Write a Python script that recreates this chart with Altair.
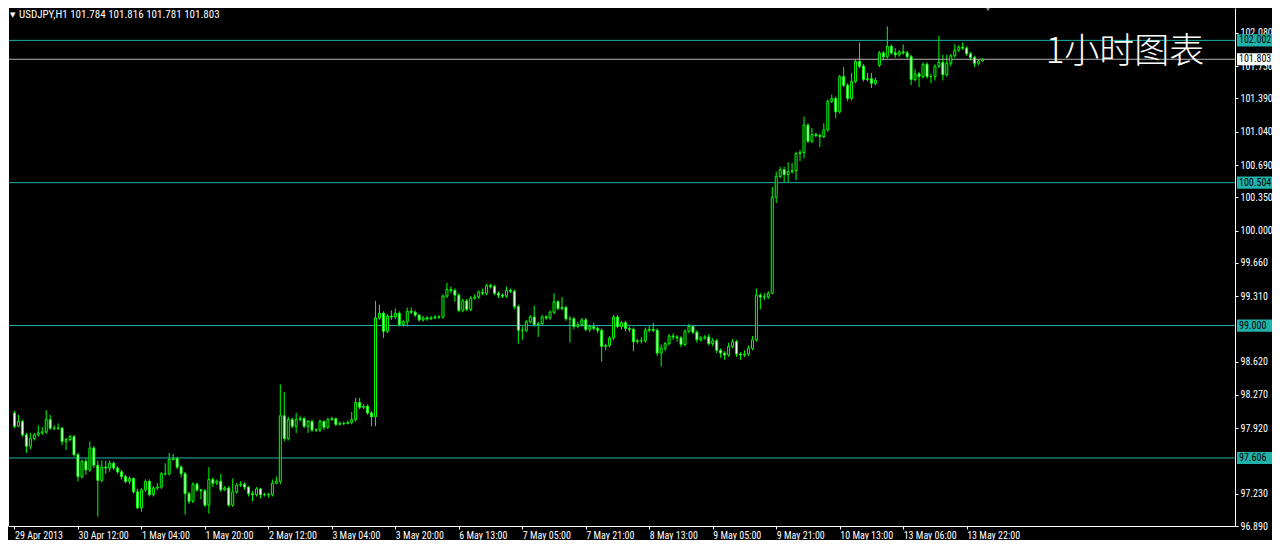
import altair as alt
import pandas as pd

# ---------------- data ----------------
closes = [
97.94, 97.99, 97.85, 97.73, 97.81, 97.85, 97.87, 97.88, 98.01, 97.92,
97.92, 97.92, 97.78, 97.80, 97.83, 97.64, 97.41, 97.57, 97.48, 97.71,
97.53, 97.37, 97.51, 97.50, 97.55, 97.50, 97.46, 97.41, 97.36, 97.39,
97.25, 97.08, 97.27, 97.36, 97.22, 97.29, 97.30, 97.44, 97.44, 97.59,
97.60, 97.51, 97.44, 97.23, 97.15, 97.33, 97.27, 97.26, 97.11, 97.38,
97.34, 97.36, 97.27, 97.29, 97.11, 97.25, 97.32, 97.33, 97.30, 97.23,
97.22, 97.28, 97.22, 97.22, 97.22, 97.34, 97.36, 98.05, 97.81, 98.01,
97.94, 98.01, 98.02, 97.94, 97.99, 97.90, 97.90, 97.99, 97.93, 98.01,
98.02, 97.96, 97.97, 97.97, 97.98, 98.01, 98.19, 98.14, 98.15, 98.08,
98.04, 99.08, 99.13, 98.94, 99.10, 99.09, 99.13, 99.01, 99.04, 99.15,
99.14, 99.11, 99.06, 99.08, 99.07, 99.08, 99.09, 99.09, 99.31, 99.38,
99.37, 99.32, 99.16, 99.26, 99.17, 99.29, 99.30, 99.35, 99.34, 99.42,
99.41, 99.34, 99.32, 99.31, 99.37, 99.36, 99.20, 98.95, 98.95, 99.04,
99.09, 99.01, 99.02, 99.09, 99.08, 99.14, 99.25, 99.18, 99.19, 99.07,
99.07, 98.99, 99.01, 99.06, 98.96, 98.99, 98.97, 98.95, 98.78, 98.79,
98.87, 99.09, 98.99, 99.03, 98.97, 98.96, 98.83, 98.84, 98.84, 98.95,
98.96, 98.95, 98.71, 98.76, 98.81, 98.89, 98.88, 98.87, 98.80, 98.94,
98.99, 98.93, 98.85, 98.87, 98.88, 98.81, 98.84, 98.74, 98.71, 98.69,
98.78, 98.83, 98.70, 98.69, 98.70, 98.76, 98.85, 99.32, 99.30, 99.30,
99.34, 100.35, 100.57, 100.64, 100.59, 100.62, 100.63, 100.81, 100.82, 101.11,
100.94, 101.01, 101.00, 100.99, 101.06, 101.36, 101.39, 101.25, 101.62, 101.53,
101.39, 101.57, 101.78, 101.73, 101.59, 101.60, 101.55, 101.58, 101.87, 101.83,
101.94, 101.87, 101.85, 101.88, 101.87, 101.83, 101.59, 101.65, 101.62, 101.75,
101.62, 101.62, 101.73, 101.77, 101.64, 101.76, 101.84, 101.90, 101.93, 101.92,
101.86, 101.82, 101.76, 101.784, 101.803,
]

highs = [
98.10, 98.06, 98.01, 97.87, 97.87, 97.87, 97.95, 97.93, 98.11, 98.06,
97.95, 97.97, 97.93, 97.82, 97.85, 97.85, 97.66, 97.59, 97.60, 97.78,
97.73, 97.58, 97.58, 97.58, 97.58, 97.57, 97.52, 97.48, 97.43, 97.41,
97.40, 97.28, 97.29, 97.38, 97.38, 97.31, 97.34, 97.46, 97.55, 97.66,
97.65, 97.62, 97.53, 97.46, 97.25, 97.35, 97.35, 97.28, 97.28, 97.51,
97.40, 97.38, 97.44, 97.31, 97.31, 97.39, 97.34, 97.36, 97.35, 97.31,
97.26, 97.30, 97.29, 97.24, 97.24, 97.38, 97.41, 98.38, 98.30, 98.04,
98.03, 98.08, 98.05, 98.04, 98.01, 98.01, 97.92, 98.01, 98.00, 98.03,
98.04, 98.03, 97.99, 97.99, 98.00, 98.09, 98.24, 98.24, 98.17, 98.17,
98.10, 99.26, 99.22, 99.15, 99.12, 99.16, 99.18, 99.15, 99.06, 99.19,
99.19, 99.16, 99.12, 99.10, 99.10, 99.10, 99.11, 99.11, 99.33, 99.45,
99.41, 99.39, 99.34, 99.28, 99.28, 99.31, 99.33, 99.37, 99.39, 99.44,
99.44, 99.43, 99.36, 99.34, 99.41, 99.39, 99.38, 99.22, 98.99, 99.06,
99.11, 99.21, 99.04, 99.11, 99.11, 99.16, 99.34, 99.27, 99.30, 99.21,
99.10, 99.09, 99.04, 99.08, 99.08, 99.01, 99.03, 98.99, 98.97, 98.81,
98.89, 99.11, 99.11, 99.05, 99.05, 98.99, 98.98, 98.86, 98.88, 98.98,
99.00, 99.03, 98.97, 98.80, 98.83, 98.91, 98.92, 98.90, 98.89, 98.96,
99.02, 99.00, 98.95, 98.89, 98.90, 98.91, 98.87, 98.86, 98.76, 98.73,
98.82, 98.86, 98.85, 98.72, 98.74, 98.79, 98.89, 99.39, 99.34, 99.34,
99.36, 100.46, 100.62, 100.67, 100.67, 100.72, 100.71, 100.83, 100.85, 101.20,
101.13, 101.08, 101.03, 101.02, 101.13, 101.38, 101.43, 101.41, 101.64, 101.72,
101.55, 101.66, 101.80, 101.98, 101.75, 101.66, 101.66, 101.61, 101.89, 101.89,
102.15, 101.96, 101.92, 101.90, 101.96, 101.89, 101.85, 101.70, 101.67, 101.77,
101.77, 101.65, 101.75, 102.05, 101.85, 101.85, 101.86, 101.96, 101.95, 101.98,
101.94, 101.88, 101.84, 101.80, 101.816,
]

lows = [
97.92, 97.93, 97.83, 97.66, 97.70, 97.79, 97.83, 97.85, 97.86, 97.90,
97.90, 97.90, 97.74, 97.69, 97.78, 97.62, 97.36, 97.39, 97.43, 97.46,
97.50, 96.99, 97.35, 97.44, 97.46, 97.48, 97.44, 97.38, 97.34, 97.33,
97.23, 97.07, 97.04, 97.25, 97.20, 97.20, 97.27, 97.28, 97.42, 97.42,
97.58, 97.49, 97.40, 97.01, 97.12, 97.13, 97.25, 97.17, 97.09, 97.02,
97.30, 97.32, 97.25, 97.26, 97.09, 97.09, 97.23, 97.30, 97.27, 97.20,
97.15, 97.20, 97.18, 97.20, 97.19, 97.20, 97.33, 97.33, 97.78, 97.79,
97.92, 97.87, 97.99, 97.92, 97.87, 97.88, 97.88, 97.88, 97.90, 97.91,
98.00, 97.94, 97.95, 97.95, 97.96, 97.96, 97.99, 98.12, 98.12, 98.06,
97.94, 97.94, 99.06, 98.87, 98.92, 99.06, 99.07, 98.99, 98.99, 98.99,
99.12, 99.09, 99.04, 99.04, 99.05, 99.06, 99.07, 99.07, 99.07, 99.29,
99.34, 99.25, 99.14, 99.14, 99.15, 99.15, 99.27, 99.28, 99.32, 99.32,
99.39, 99.32, 99.29, 99.29, 99.29, 99.34, 99.17, 98.81, 98.85, 98.93,
99.02, 98.99, 98.88, 99.00, 99.06, 99.06, 99.12, 99.16, 99.16, 99.05,
98.82, 98.96, 98.97, 98.99, 98.94, 98.93, 98.95, 98.92, 98.62, 98.74,
98.77, 98.85, 98.97, 98.96, 98.94, 98.93, 98.73, 98.81, 98.81, 98.82,
98.93, 98.93, 98.68, 98.57, 98.73, 98.79, 98.85, 98.83, 98.77, 98.78,
98.92, 98.91, 98.82, 98.83, 98.85, 98.79, 98.78, 98.71, 98.66, 98.64,
98.67, 98.76, 98.67, 98.64, 98.67, 98.68, 98.74, 98.83, 99.17, 99.27,
99.28, 99.33, 100.29, 100.55, 100.51, 100.51, 100.60, 100.53, 100.73, 100.76,
100.92, 100.92, 100.98, 100.88, 100.97, 101.04, 101.34, 101.18, 101.23, 101.51,
101.36, 101.37, 101.55, 101.71, 101.57, 101.57, 101.50, 101.53, 101.72, 101.79,
101.81, 101.85, 101.82, 101.83, 101.85, 101.81, 101.53, 101.57, 101.51, 101.60,
101.60, 101.55, 101.58, 101.71, 101.58, 101.62, 101.73, 101.82, 101.88, 101.90,
101.84, 101.79, 101.72, 101.74, 101.781,
]

first_open = 98.08
gap_opens = {218: 101.74}   # weekend gap (10 May -> 13 May)

opens = [first_open] + closes[:-1]
for k, v in gap_opens.items():
    opens[k] = v

time_labels = ["29 Apr 2013", "30 Apr 12:00", "1 May 04:00", "1 May 20:00",
               "2 May 12:00", "3 May 04:00", "3 May 20:00", "6 May 13:00",
               "7 May 05:00", "7 May 21:00", "8 May 13:00", "9 May 05:00",
               "9 May 21:00", "10 May 13:00", "13 May 06:00", "13 May 22:00"]
label_step = 16

# price-scale labels that are visible (97.580 and 98.970 sit under level boxes)
price_ticks = [96.890, 97.230, 97.920, 98.270, 98.620, 99.310,
               99.660, 100.000, 100.350, 100.690, 101.040, 101.390, 101.730, 102.080]

level_prices = [102.002, 100.504, 99.000, 97.606]
symbol = "USDJPY,H1"
chart_note = "1小时图表"

# ---------------- styling ----------------
GREEN = "#00ff00"
CYAN = "#20b2aa"
BIDGRAY = "#b4b4b4"
FONT = "Liberation Sans Narrow, Roboto Condensed, Liberation Sans, sans-serif"

n = len(closes)
df = pd.DataFrame({
    "i": list(range(n)),
    "open": opens, "high": highs, "low": lows, "close": closes,
})
df["bull"] = df["close"] >= df["open"]

bid = closes[-1]
levels = pd.DataFrame({"p": level_prices, "c": [CYAN] * len(level_prices)})
boxes = pd.DataFrame({
    "p": level_prices + [bid],
    "bg": [CYAN] * len(level_prices) + ["#ffffff"],
})
boxes["label"] = boxes["p"].map(lambda v: f"{v:.3f}")

W, H = 1227, 518
xscale = alt.Scale(domain=[-0.375, W / 4 - 0.375], nice=False, zero=False)
yscale = alt.Scale(domain=[96.890, 96.890 + H / 95.0], nice=False, zero=False)

label_js = "[" + ",".join(f"'{t}'" for t in time_labels) + "]"
xaxis = alt.Axis(
    values=list(range(0, label_step * len(time_labels), label_step)),
    labelExpr=f"{label_js}[round(datum.value/{label_step})]",
    orient="bottom", title=None, grid=False, zindex=0,
    domainColor="white", tickColor="white", labelColor="white",
    tickSize=3, labelPadding=1, labelAlign="left",
    labelFont=FONT, labelFontSize=10, labelOverlap=False, labelFlush=False,
)
yaxis = alt.Axis(
    values=price_ticks, format=".3f", orient="right", title=None, grid=False,
    zindex=0,
    domainColor="white", tickColor="white", labelColor="white",
    tickSize=3, labelPadding=2, labelFont=FONT, labelFontSize=10,
    labelOverlap=False, labelFlush=False,
)

wicks = alt.Chart(df).mark_rule(color=GREEN, strokeWidth=1).encode(
    x=alt.X("i:Q", scale=xscale, axis=xaxis),
    y=alt.Y("low:Q", scale=yscale, axis=yaxis),
    y2="high:Q",
)
bodies = alt.Chart(df).mark_bar(size=2, stroke=GREEN, strokeWidth=1).encode(
    x=alt.X("i:Q", scale=xscale, axis=xaxis),
    y=alt.Y("open:Q", scale=yscale, axis=yaxis),
    y2="close:Q",
    fill=alt.condition("datum.bull", alt.value("black"), alt.value("white")),
)

level_lines = alt.Chart(levels).mark_rule(strokeWidth=1).encode(
    y=alt.Y("p:Q", scale=yscale, axis=yaxis),
    color=alt.Color("c:N", scale=None),
)
bid_line = alt.Chart(pd.DataFrame({"p": [bid]})).mark_rule(
    strokeWidth=1, color=BIDGRAY).encode(
    y=alt.Y("p:Q", scale=yscale, axis=yaxis))

left_border = alt.Chart(pd.DataFrame({"a": [0]})).mark_rule(
    color="white", strokeWidth=1).encode(x=alt.value(0.5))

box_rects = alt.Chart(boxes).transform_calculate(
    p1="datum.p + 0.064", p2="datum.p - 0.064"
).mark_rect().encode(
    x=alt.value(W + 2), x2=alt.value(W + 37),
    y=alt.Y("p1:Q", scale=yscale, axis=yaxis), y2="p2:Q",
    color=alt.Color("bg:N", scale=None),
)
box_text = alt.Chart(boxes).mark_text(
    align="left", baseline="middle", font=FONT, fontSize=10, color="black"
).encode(
    x=alt.value(W + 4),
    y=alt.Y("p:Q", scale=yscale, axis=yaxis),
    text="label:N",
)

last = df.iloc[-1]
header = f"{symbol}  {last['open']:.3f} {last['high']:.3f} {last['low']:.3f} {last['close']:.3f}"
header_arrow = alt.Chart(pd.DataFrame({"t": ["▼"]})).mark_text(
    align="left", baseline="middle", font="DejaVu Sans", fontSize=7, color="white"
).encode(x=alt.value(2), y=alt.value(7), text="t:N")
header_text = alt.Chart(pd.DataFrame({"t": [header]})).mark_text(
    align="left", baseline="middle", font=FONT, fontSize=11, color="white"
).encode(x=alt.value(11), y=alt.value(7), text="t:N")

note = alt.Chart(pd.DataFrame({"t": [chart_note]})).mark_text(
    align="center", baseline="middle", font="Noto Sans CJK SC", fontSize=35,
    fontWeight=300, color="white"
).encode(x=alt.value(1117), y=alt.value(44), text="t:N")

shift_marker = alt.Chart(pd.DataFrame({"a": [0]})).mark_point(
    shape="triangle-down", filled=True, size=60, color="#8c8c8c", opacity=1
).encode(x=alt.value(980), y=alt.value(0))

chart = alt.layer(
    wicks, level_lines, bid_line, bodies, left_border,
    box_rects, box_text, header_arrow, header_text, note, shift_marker,
).properties(
    width=W, height=H,
    padding={"left": 0, "top": 0, "right": 37, "bottom": 14},
    autosize=alt.AutoSizeParams(type="none"),
).configure(background="black").configure_view(stroke=None, fill="black")

chart.save("out.html", embed_options={"renderer": "svg", "actions": False})
